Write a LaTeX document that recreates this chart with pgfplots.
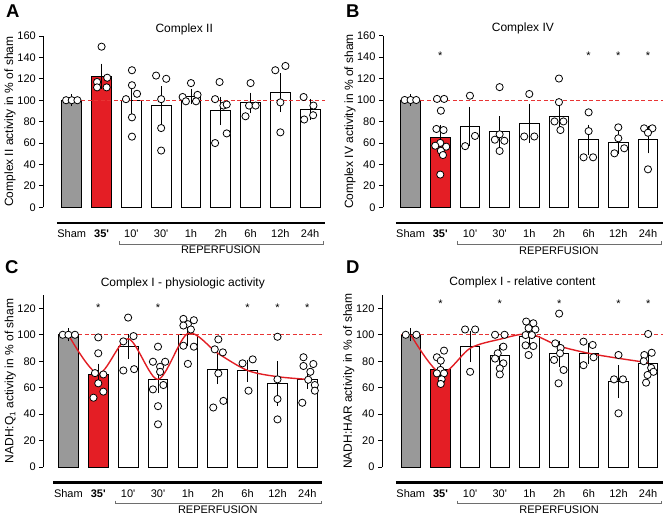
\documentclass[border=0pt]{standalone}
\usepackage{fontspec}
\setmainfont{Liberation Sans}[Ligatures=TeXOff]
\usepackage{pgfplots}
\pgfplotsset{compat=1.18}

\definecolor{shamgray}{RGB}{153,153,153}
\definecolor{barred}{RGB}{228,30,37}
\definecolor{dashred}{RGB}{232,52,52}
\definecolor{curvered}{RGB}{226,30,36}
\definecolor{brackgray}{RGB}{110,110,110}

\newcommand{\fs}[1]{\fontsize{#1}{#1}\selectfont}

% pieces under the x axis: thick line, bracket, REPERFUSION
\newcommand{\bottomdecor}[3]{%
  \draw[line width=2.4pt] (axis cs:-0.5,#1) -- (axis cs:8.5,#1);
  \draw[brackgray, line width=0.6pt] ([yshift=3pt]axis cs:1.58,#2) -- (axis cs:1.58,#2)
      -- (axis cs:8.45,#2) -- ([yshift=3pt]axis cs:8.45,#2);
  \node[font=\fs{11}] at (axis cs:5,#3) {REPERFUSION};
}
% significance stars: #1 = list of positions, #2 = baseline value
\newcommand{\stars}[2]{%
  \pgfplotsinvokeforeach{#1}{\node[anchor=base, font=\fs{11}] at (axis cs:##1,#2) {*};}
}

\pgfplotsset{
  panel/.style={
    scale only axis, clip=false,
    axis y line*=left, axis x line*=bottom,
    x axis line style={draw=none},
    xtick={0,...,8},
    xticklabels={Sham,\textbf{35'},10',30',1h,2h,6h,12h,24h},
    xtick style={draw=none},
    xmax=8.5, ymin=0,
    y axis line style={line width=0.8pt},
    ytick style={line width=0.8pt, black},
    tick align=outside, major tick length=4pt,
    ticklabel style={font=\fs{11}},
    /pgf/number format/assume math mode=true,
    xticklabel style={yshift=-15pt},
    ylabel style={at={(axis description cs:-0.118,0.5)}, anchor=center, font=\fs{12}},
    title style={at={(axis description cs:0.5,1)}, anchor=base, font=\fs{12}},
  },
  shambar/.style={ybar, bar width=0.66, bar shift=0pt, fill=shamgray, draw=black, line width=0.9pt},
  redbar/.style={ybar, bar width=0.66, bar shift=0pt, fill=barred, draw=black, line width=0.9pt},
  whitebar/.style={ybar, bar width=0.66, bar shift=0pt, fill=white, draw=black, line width=0.9pt},
  refline/.style={dashred, line width=0.9pt, dash pattern=on 4pt off 2.5pt},
  dots/.style={only marks, mark=*, mark size=3.6pt, mark options={fill=white, draw=black, line width=0.8pt}},
  sem/.style={draw=none, mark=none, error bars/.cd, y dir=both, y explicit, error mark=-,
    error bar style={draw=black, solid, line width=0.9pt},
    error mark options={draw=black, solid, line width=0.9pt, mark size=4.5pt}},
  fit/.style={curvered, line width=1.4pt, smooth, mark=none},
}

\begin{document}
\begin{tikzpicture}
\path[use as bounding box] (0,0) rectangle (666pt,515pt);

% panel letters
\node[anchor=base west, font=\fs{18.5}\bfseries, inner sep=0pt] at (6pt,497pt) {A};
\node[anchor=base west, font=\fs{18.5}\bfseries, inner sep=0pt] at (346pt,497pt) {B};
\node[anchor=base west, font=\fs{18.5}\bfseries, inner sep=0pt] at (5pt,242pt) {C};
\node[anchor=base west, font=\fs{18.5}\bfseries, inner sep=0pt] at (346pt,242pt) {D};

%% ---------------- A: Complex II ----------------
\begin{axis}[panel, at={(43.3pt,307.7pt)}, anchor=south west,
  x=29.8pt, y=1.0708pt, xmin=-0.955, ymax=160, ytick={0,20,...,160},
  ylabel={Complex II activity in \% of sham},
  title={Complex II}, title style={yshift=-2.5pt}]
\addplot[shambar] coordinates {(0,100)};
\addplot[redbar] coordinates {(1,122.5)};
\addplot[whitebar] coordinates {(2,99.5) (3,95) (4,103.5) (5,90) (6,97.5) (7,107) (8,91.5)};
\addplot[refline] coordinates {(-0.33,100) (8.5,100)};
\addplot[dots] coordinates {
  (-0.19,100) (0,100) (0.19,100)
  (1,150) (0.85,117) (1.19,121) (0.85,112) (1.17,112)
  (2.02,128) (2.02,114) (2.19,106) (1.82,101) (2.02,84) (2.02,66)
  (2.83,123) (3.17,120) (3,101) (3,74) (3,53)
  (4,116) (3.72,103) (4.22,105) (3.83,99) (4.17,99)
  (4.96,117) (4.81,101) (5.09,95) (5.2,96) (5.2,69) (4.81,60)
  (6,116) (5.83,85) (5.95,95) (6.17,95)
  (6.83,128) (7.17,132) (7,98) (7,70)
  (7.78,103) (8.11,95) (8.1,86) (7.8,82)};
\addplot[sem] coordinates {
  (0,100) +- (0,1.5) (1,122.5) +- (0,7.5) (2,99.5) +- (0,9.5) (3,95) +- (0,14)
  (4,103.5) +- (0,3) (5,90) +- (0,9) (6,97.5) +- (0,5.5) (7,107) +- (0,14) (8,91.5) +- (0,5.5)};
\bottomdecor{-14.45}{-34.5}{-40}
\end{axis}

%% ---------------- B: Complex IV ----------------
\begin{axis}[panel, at={(383pt,307.7pt)}, anchor=south west,
  x=29.67pt, y=1.073pt, xmin=-0.93, ymax=160, ytick={0,20,...,160},
  ylabel={Complex IV activity in \% of sham},
  title={Complex IV}, title style={yshift=-2pt}]
\addplot[shambar] coordinates {(0,100)};
\addplot[redbar] coordinates {(1,65.5)};
\addplot[whitebar] coordinates {(2,75.5) (3,70.5) (4,78.5) (5,85) (6,62.8) (7,60.5) (8,63)};
\addplot[refline] coordinates {(-0.33,100) (8.5,100)};
\addplot[dots] coordinates {
  (-0.2,100) (0,100) (0.19,100)
  (0.89,101) (1.13,101) (1.02,90) (0.87,73) (1.11,72) (1,60) (0.83,57.4) (1.2,56.5) (1.02,52.7) (1.09,48.7) (1,30.5)
  (2,104) (2.17,66.5) (1.84,57)
  (3,112) (3,68) (2.84,63) (3.16,62) (3,52.5)
  (4,105.6) (3.83,66) (4.17,66)
  (5,120) (5,98) (4.85,80) (5.15,80) (5.05,72)
  (6,88.5) (6,71) (5.83,46.6) (6.15,46.6)
  (7,74.5) (7,64.3) (7.2,55) (6.87,50.3)
  (7.87,73.6) (8.15,73.6) (8,69.5) (8,35.4)};
\addplot[sem] coordinates {
  (0,100) +- (0,1.5) (1,65.5) +- (0,7) (2,75.5) +- (0,14) (3,70.5) +- (0,10)
  (4,78.5) +- (0,14) (5,85) +- (0,7.5) (6,62.8) +- (0,10) (7,60.5) +- (0,6.5) (8,63) +- (0,8.5)};
\stars{1,6,7,8}{137.5}
\bottomdecor{-14.45}{-34.5}{-40}
\end{axis}

%% ---------------- C: Complex I - physiologic activity ----------------
\begin{axis}[panel, at={(43.3pt,48pt)}, anchor=south west,
  x=29.87pt, y=1.3223pt, xmin=-0.84, ymax=130, ytick={0,20,...,120},
  ylabel={NADH:Q\textsubscript{1} activity in \% of sham},
  title={Complex I - physiologic activity}, title style={yshift=2.5pt}]
\addplot[shambar] coordinates {(0,100)};
\addplot[redbar] coordinates {(1,70.3)};
\addplot[whitebar] coordinates {(2,91) (3,66.3) (4,100) (5,74) (6,72.8) (7,63) (8,66.5)};
\addplot[refline] coordinates {(-0.33,100) (8.5,100)};
\addplot[dots] coordinates {
  (-0.19,100) (0,100) (0.22,100)
  (1,98) (1,86) (0.89,71) (1.17,70) (1,63.3) (1.17,57) (0.84,52.4)
  (2,113) (2.18,99) (1.84,95) (1.84,73) (2.2,74)
  (3,91) (2.83,79.6) (3.24,79.6) (3.07,75.8) (3.07,72) (2.83,58.7) (3.18,62) (3,46) (3,32.3)
  (3.85,112) (4.2,111) (4,108) (3.85,107) (4.1,104) (3.85,91.7) (4.2,91) (4,78)
  (5.02,96.5) (4.9,89) (5.17,86.7) (5.02,70.8) (4.85,45) (5.19,50)
  (5.83,78.4) (6.17,81.4) (6.03,57.7)
  (7,98.5) (7,66.3) (7,51.4) (7,36)
  (7.87,83) (8.2,77.9) (7.87,76.4) (8.1,72) (8.03,66) (8.25,62) (8.25,57.7) (7.83,48.6)};
\addplot[sem] coordinates {
  (0,100) +- (0,1.5) (1,70.3) +- (0,4.5) (2,91) +- (0,6) (3,66.3) +- (0,7)
  (4,100) +- (0,5) (5,74) +- (0,8) (6,72.8) +- (0,5) (7,63) +- (0,13.5) (8,66.5) +- (0,4)};
\addplot[fit] coordinates {(0,100) (1,70.5) (2,97) (3,66.3) (4,101) (5,86) (6,73) (7,68.3) (8,66.3)};
\stars{1,3,6,7,8}{117.5}
\bottomdecor{-11.7}{-27.7}{-32.5}
\end{axis}

%% ---------------- D: Complex I - relative content ----------------
\begin{axis}[panel, at={(382pt,48pt)}, anchor=south west,
  x=29.67pt, y=1.3223pt, xmin=-0.97, ymax=130, ytick={0,20,...,120},
  ylabel={NADH:HAR activity in \% of sham},
  title={Complex I - relative content}, title style={yshift=3.5pt}]
\addplot[shambar] coordinates {(0,100)};
\addplot[redbar] coordinates {(1,73.4)};
\addplot[whitebar] coordinates {(2,91) (3,84.7) (4,98.5) (5,85.5) (6,85.5) (7,64.5) (8,78.5)};
\addplot[refline] coordinates {(-0.33,100) (8.5,100)};
\addplot[dots] coordinates {
  (-0.17,100) (0.19,100)
  (1.12,88) (0.88,83) (1.01,80.4) (1,73.4) (0.88,70.8) (1.12,70.8) (1.04,66.3) (1.01,62.8)
  (1.83,104) (2.17,104) (2,72)
  (2.84,100) (3.16,100) (3.12,91) (2.93,86) (2.84,82) (3.12,78.4) (3,74.6) (3,70)
  (3.89,110) (4.13,108.7) (3.97,105) (4.2,104) (3.87,99.8) (4.08,99.8) (3.87,92) (4.13,91.5) (3.97,84.7)
  (5,116) (4.87,93.5) (5.05,90) (5.03,86) (4.83,81) (5.15,73.4) (4.98,63.3)
  (5.82,94.8) (6.13,92.3) (6.16,83) (5.82,77)
  (7,84.7) (6.85,66.3) (7.15,66.3) (7,40.6)
  (8,100.6) (7.87,84.7) (8.12,86.4) (7.85,80) (8.1,75) (8.18,72) (7.98,69.6) (7.93,63.8)};
\addplot[sem] coordinates {
  (0,100) +- (0,1.5) (1,73.4) +- (0,2.5) (2,91) +- (0,8.5) (3,84.7) +- (0,4)
  (4,98.5) +- (0,3.5) (5,85.5) +- (0,6.5) (6,85.5) +- (0,4.5) (7,64.5) +- (0,9) (8,78.5) +- (0,4)};
\addplot[fit] coordinates {(0,100) (1,71) (2,89.8) (3,96.6) (4,100.6) (5,91.5) (6,86) (7,82.2) (8,78.9)};
\stars{1,3,5,7,8}{120.5}
\bottomdecor{-11.7}{-27.7}{-32.5}
\end{axis}
\end{tikzpicture}
\end{document}
